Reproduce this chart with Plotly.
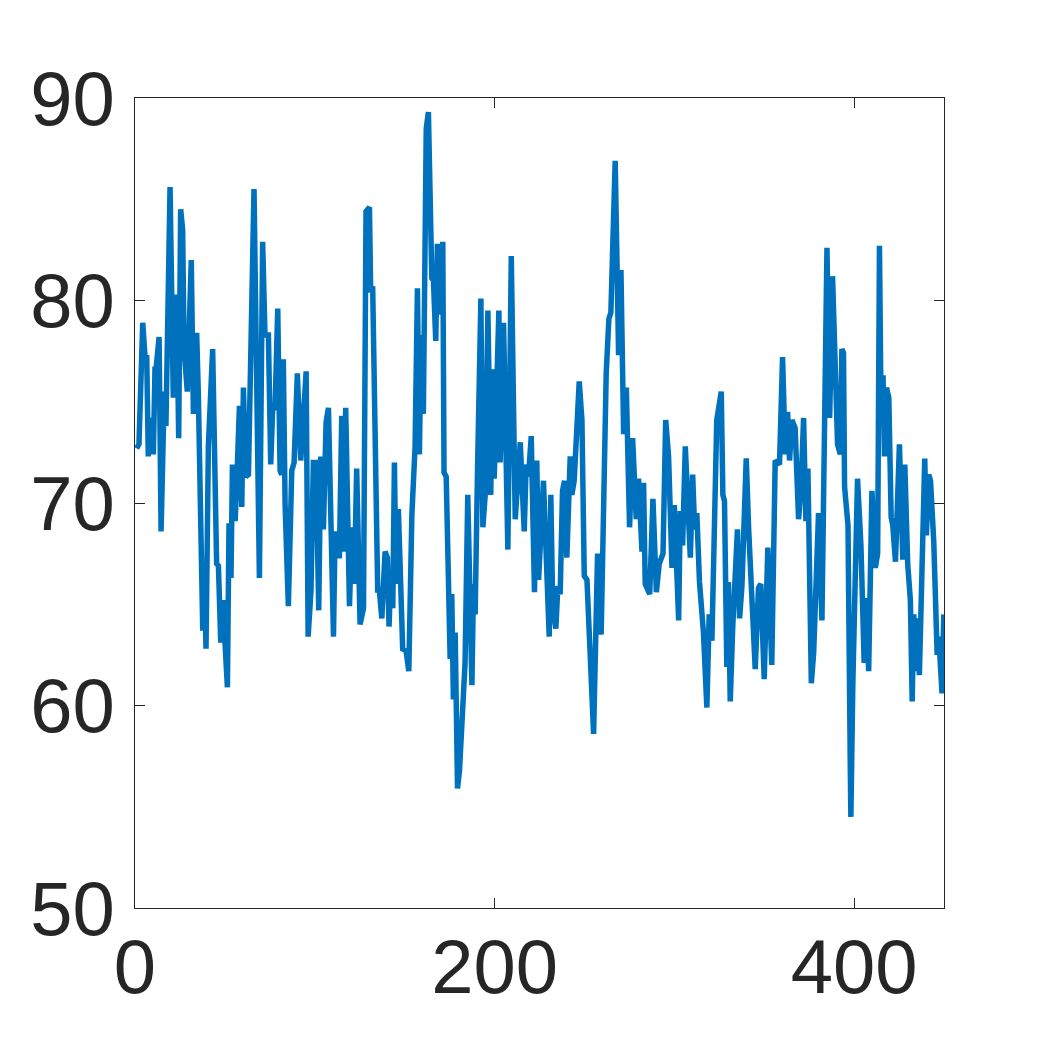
import plotly.graph_objects as go

# vertex positions (sample index) and values
sample_index = [
    0.9, 2.2, 4.3, 5.6, 6.5, 7.4, 8.7, 10.2, 11.1, 11.7, 13.4, 14.5, 16.3, 17.2, 19.5, 21.3, 23.2, 24.3,
    25.4, 26.5, 27.3, 29.1, 31.3, 32.5, 34.3, 35.2, 37.7, 38.4, 39.5, 40.8, 43.2, 45.4, 46.4, 47.7, 48.8,
    50.1, 51.4, 52.3, 53.4, 54.2, 55.7, 56.6, 58.1,
    59.4, 60.3, 61.6, 63.1, 66.2, 69.2, 71.0, 72.3, 74.2, 75.5, 76.6, 77.9, 79.4, 80.7, 81.6, 82.5, 83.5,
    85.3, 87.2, 88.5, 90.3, 92.2, 95.2, 96.3, 97.9, 99.2, 100.7, 102.2, 103.3, 104.8, 106.3, 107.6,
    110.4, 111.3, 112.6, 113.7, 115.0, 115.9, 117.2, 119.3, 120.6, 122.0, 123.3, 125.2, 127.1, 128.5,
    130.4, 131.1, 132.2, 135.0, 135.9, 137.3, 139.1, 140.4, 141.3, 142.4, 143.4, 144.3, 145.2, 146.5,
    148.9, 150.8, 152.3, 154.0, 155.8, 157.1, 158.2, 159.1, 160.4,
    162.0, 163.2, 165.1, 166.0, 167.3, 168.2, 169.4, 171.2, 171.9, 173.1, 174.4, 175.3, 176.2, 177.1,
    178.1, 179.4, 180.5, 182.7, 183.6, 185.1, 187.4, 188.3, 189.2, 190.5, 192.4, 193.5, 194.8, 196.3,
    197.9, 198.7, 199.8, 202.4, 203.1, 205.0, 207.4,
    209.3, 211.5, 214.3, 216.5, 217.6, 218.9, 220.4, 222.2, 223.5, 224.5, 227.2, 230.4, 231.3, 232.4,
    234.1, 235.2, 236.5, 237.8, 238.9, 240.2, 242.1, 243.0, 244.3, 247.1, 248.6, 249.9, 251.4, 255.1,
    257.3, 259.3, 262.1, 263.6, 264.7,
    267.1, 269.0, 270.3, 271.8, 273.3, 275.1, 276.8, 278.8, 280.1, 282.0, 282.9, 283.8, 286.3, 288.1,
    290.0, 291.6, 293.7, 295.2, 296.8, 298.7, 300.0, 302.4, 303.3, 304.6, 306.1, 308.9, 310.2, 311.3,
    312.5, 314.0, 316.2, 318.1, 319.4, 320.9, 323.6, 326.1, 327.0, 327.9, 329.2, 330.1, 331.1, 332.5,
    335.1, 336.3, 337.6, 340.0, 341.3, 345.0, 346.8, 348.1, 350.0, 352.0, 354.2, 356.1, 358.5, 360.2,
    361.7, 363.0, 364.1, 365.4, 367.2, 369.1, 370.4, 371.9, 373.2, 374.3, 376.2, 377.5, 380.2, 382.1,
    384.9, 386.4, 388.0, 390.8, 392.3, 393.2, 394.1, 394.7, 396.6, 397.9, 398.2, 399.3, 401.9, 403.8,
    405.6, 406.8, 408.1, 409.9, 411.8, 413.1, 414.1, 415.0, 416.1, 416.9, 418.0, 419.3, 420.6, 421.5,
    423.0, 425.2, 427.1, 428.2, 429.8, 431.3, 432.3, 433.2, 434.1, 435.0, 436.3, 439.3, 440.2, 441.5,
    442.5, 444.3, 446.2, 447.1, 448.9, 449.9,
]
values = [
    72.7, 72.9, 78.9, 77.2, 77.3, 72.3, 74.2, 72.4, 76.6, 76.6, 78.2, 68.6, 75.5, 73.8, 85.6, 75.2, 80.3, 73.2,
    84.5, 83.5, 77.6, 75.5, 82.0, 74.4, 78.4, 75.5, 63.7, 67.1, 62.8, 72.8, 77.6, 67.0, 66.9, 63.1, 65.2,
    63.1, 60.9, 69.0, 66.3, 71.9, 69.1, 71.0, 74.8,
    69.8, 75.7, 71.3, 71.4, 85.5, 66.3, 82.9, 78.3, 78.3, 71.9, 74.7, 74.7, 79.6, 71.6, 71.4, 77.1, 69.9,
    64.9, 71.6, 72.0, 76.4, 72.1, 76.5, 63.4, 65.7, 72.0, 72.0, 64.7, 72.3, 68.7, 74.0, 74.7,
    63.4, 68.6, 67.4, 67.4, 74.3, 67.6, 74.7, 64.9, 68.8, 66.0, 71.7, 64.0, 64.8, 84.4,
    84.6, 80.4, 80.7, 65.7, 65.7, 64.3, 67.6, 67.3, 63.9, 66.7, 64.8, 72.0, 66.0, 69.7,
    62.8, 62.7, 61.7, 69.4, 72.8, 80.6, 72.4, 78.3, 74.4,
    88.5, 89.3, 81.1, 81.0, 78.0, 82.8, 79.3, 82.9, 71.5, 71.3, 65.4, 62.3, 65.5, 60.3,
    63.6, 55.9, 56.8, 61.4, 62.1, 70.4, 61.0, 66.0, 64.5, 71.5, 80.1, 68.8, 70.4, 79.5,
    70.4, 76.6, 71.2, 79.5, 72.0, 78.9, 67.7,
    82.2, 69.2, 73.0, 68.6, 71.9, 71.3, 73.3, 65.6, 72.1, 66.2, 71.1, 63.4, 70.4, 64.7,
    63.8, 65.9, 65.5, 70.6, 71.1, 67.3, 72.3, 70.4, 71.1, 76.0, 74.1, 66.4, 66.2, 58.6,
    67.5, 63.5, 76.4, 79.1, 79.4,
    86.9, 77.3, 81.5, 73.4, 75.7, 68.8, 73.2, 69.2, 71.2, 67.6, 71.0, 66.0, 65.5, 70.2,
    65.6, 67.0, 67.5, 74.1, 72.3, 66.8, 69.9, 64.2, 69.6, 67.9, 72.8, 67.3, 71.4, 68.7,
    69.5, 66.1, 63.6, 59.9, 64.5, 63.2, 74.1, 75.5, 70.4, 70.1, 61.9, 66.1, 60.2, 63.9,
    68.7, 64.3, 65.9, 72.2, 68.8, 61.8, 65.8, 66.0, 61.3, 67.8, 62.0, 72.1, 71.9, 77.2,
    72.4, 74.5, 72.1, 74.1, 73.7, 69.2, 70.6, 74.2, 69.1, 71.7, 61.1, 62.6, 69.5, 64.2,
    82.6, 74.2, 81.2, 72.9, 72.4, 77.6, 77.4, 70.8, 68.9, 56.7, 54.5, 61.1, 71.2, 67.9,
    62.1, 65.3, 61.7, 70.6, 66.8, 67.5, 82.7, 74.4, 76.3, 72.3, 75.7, 75.2, 69.3, 68.9,
    67.1, 72.9, 67.2, 71.9, 67.0, 65.2, 60.2, 64.5, 61.7, 64.3, 61.5, 72.2, 68.4, 71.4,
    71.1, 68.1, 62.5, 63.4, 60.6, 64.5,
]

x_ticks = [0, 200, 400]
y_ticks = [50, 60, 70, 80, 90]

fig = go.Figure()
fig.add_trace(go.Scatter(
    x=sample_index, y=values, mode="lines",
    line=dict(color="#0072BD", width=5.5),
    showlegend=False,
))

axis_common = dict(
    showline=True, linecolor="#262626", linewidth=1, mirror="ticks",
    ticks="inside", ticklen=10, tickwidth=1, tickcolor="#262626",
    showgrid=False, zeroline=False,
    tickfont=dict(family="Liberation Sans, Arial, Helvetica, sans-serif", size=76, color="#262626"),
)

fig.update_xaxes(range=[0, 450], tickvals=x_ticks, ticklabelstandoff=-7, **axis_common)
fig.update_yaxes(range=[50, 90], tickvals=y_ticks, ticklabelstandoff=4, **axis_common)

fig.update_layout(
    width=1043, height=1042,
    margin=dict(l=127, r=107, t=90, b=142, pad=0),
    paper_bgcolor="white", plot_bgcolor="white",
)

fig.write_html("out.html")
